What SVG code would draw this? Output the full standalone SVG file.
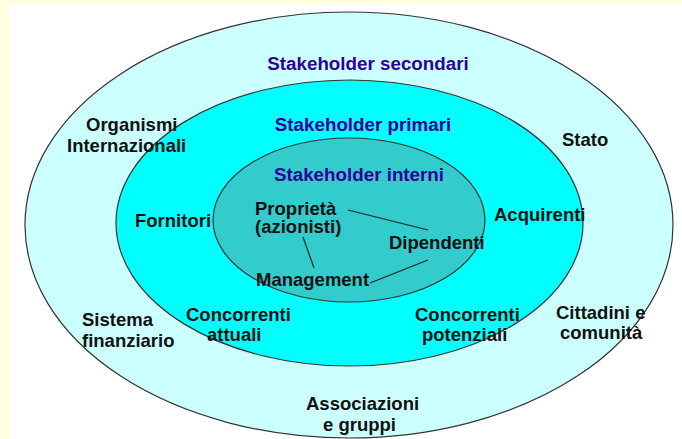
<svg xmlns="http://www.w3.org/2000/svg" width="682" height="439" viewBox="0 0 682 439">
  <style>
    .ring { stroke: #333333; stroke-width: 1.2; }
    .title { font-family: "Liberation Sans", Arial, sans-serif; font-size: 18.8px; font-weight: bold; fill: #330099; text-anchor: middle; }
    .label { font-family: "Liberation Sans", Arial, sans-serif; font-size: 18.5px; font-weight: bold; fill: #111111; }
    .link { stroke: #222222; stroke-width: 1.2; fill: none; }
  </style>

  <!-- page background with the pale frame on top and left -->
  <rect x="0" y="0" width="682" height="439" fill="#FFFFDD"/>
  <rect x="9" y="4" width="673" height="435" fill="#FFFFFF"/>

  <!-- concentric stakeholder rings -->
  <g id="ring-secondari">
    <ellipse class="ring" cx="349" cy="225" rx="324" ry="213" fill="#CCFFFF"/>
    <text class="title" x="368" y="70">Stakeholder secondari</text>
  </g>
  <g id="ring-primari">
    <ellipse class="ring" cx="349.5" cy="223" rx="233.5" ry="143" fill="#00FFFF"/>
    <text class="title" x="363" y="131">Stakeholder primari</text>
  </g>
  <g id="ring-interni">
    <ellipse class="ring" cx="349" cy="220" rx="136" ry="82" fill="#33CCCC"/>
    <text class="title" x="359" y="181">Stakeholder interni</text>
  </g>

  <!-- links among the internal stakeholders -->
  <g id="connectors">
    <line class="link" x1="348" y1="210" x2="428" y2="230"/>
    <line class="link" x1="303" y1="237" x2="314" y2="268"/>
    <line class="link" x1="370" y1="283" x2="428" y2="260"/>
  </g>

  <!-- internal stakeholders -->
  <g id="proprieta">
    <text class="label" x="255" y="215">Proprietà</text>
    <text class="label" x="255" y="233">(azionisti)</text>
  </g>
  <g id="dipendenti">
    <text class="label" x="389" y="249">Dipendenti</text>
  </g>
  <g id="management">
    <text class="label" x="256" y="286">Management</text>
  </g>

  <!-- primary stakeholders -->
  <g id="fornitori">
    <text class="label" x="135" y="227">Fornitori</text>
  </g>
  <g id="acquirenti">
    <text class="label" x="494" y="221">Acquirenti</text>
  </g>
  <g id="concorrenti-attuali">
    <text class="label" x="186" y="321">Concorrenti</text>
    <text class="label" x="207" y="341">attuali</text>
  </g>
  <g id="concorrenti-potenziali">
    <text class="label" x="415" y="321">Concorrenti</text>
    <text class="label" x="422" y="341">potenziali</text>
  </g>

  <!-- secondary stakeholders -->
  <g id="organismi">
    <text class="label" x="86" y="131">Organismi</text>
    <text class="label" x="67" y="152">Internazionali</text>
  </g>
  <g id="stato">
    <text class="label" x="562" y="146">Stato</text>
  </g>
  <g id="sistema-finanziario">
    <text class="label" x="82" y="326">Sistema</text>
    <text class="label" x="82" y="347">finanziario</text>
  </g>
  <g id="cittadini">
    <text class="label" x="556" y="319">Cittadini e</text>
    <text class="label" x="560" y="339">comunità</text>
  </g>
  <g id="associazioni">
    <text class="label" x="306" y="410">Associazioni</text>
    <text class="label" x="323" y="431">e gruppi</text>
  </g>
</svg>
